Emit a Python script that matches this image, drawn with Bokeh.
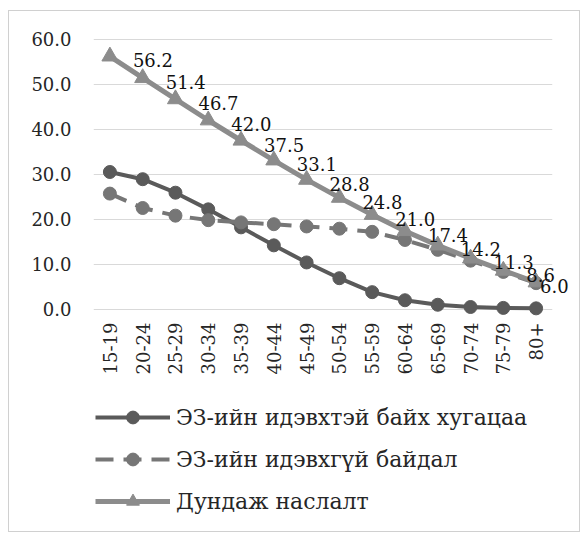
from bokeh.plotting import figure
from bokeh.layouts import column
from bokeh.models import ColumnDataSource, Legend, LegendItem, FixedTicker, Range1d
from bokeh.core.properties import value
from bokeh.embed import file_html
from bokeh.resources import INLINE
import math

age_groups = ["15-19", "20-24", "25-29", "30-34", "35-39", "40-44", "45-49",
              "50-54", "55-59", "60-64", "65-69", "70-74", "75-79", "80+"]
active_years = [30.5, 28.9, 25.9, 22.2, 18.2, 14.2, 10.4, 6.9, 3.8, 2.0, 1.0, 0.5, 0.3, 0.2]
inactive_years = [25.7, 22.5, 20.8, 19.8, 19.3, 18.9, 18.4, 17.9, 17.2, 15.4, 13.2, 10.8, 8.3, 5.8]
life_expectancy = [56.2, 51.4, 46.7, 42.0, 37.5, 33.1, 28.8, 24.8, 21.0, 17.4, 14.2, 11.3, 8.6, 6.0]
series_names = ["ЭЗ-ийн идэвхтэй байх хугацаа", "ЭЗ-ийн идэвхгүй байдал", "Дундаж наслалт"]
y_ticks = [0, 10, 20, 30, 40, 50, 60]

FONT = "DejaVu Serif"
C_ACTIVE = "#5a5a5a"
C_INACTIVE = "#767676"
C_TOTAL = "#8c8c8c"

LINE_STYLES = [dict(line_color=C_ACTIVE, line_width=4),
               dict(line_color=C_INACTIVE, line_width=4, line_dash="18 10"),
               dict(line_color=C_TOTAL, line_width=5)]
MARK_STYLES = [dict(marker="circle", size=13, fill_color=C_ACTIVE, line_color=C_ACTIVE),
               dict(marker="circle", size=13, fill_color=C_INACTIVE, line_color=C_INACTIVE),
               dict(marker="triangle", size=16, fill_color=C_TOTAL, line_color=C_TOTAL)]
SERIES_COLS = ["active", "inactive", "total"]

label_dx = [23] * (len(age_groups) - 1) + [4]
src = ColumnDataSource(dict(age=age_groups, active=active_years, inactive=inactive_years,
                            total=life_expectancy,
                            lbl=[f"{v:.1f}" for v in life_expectancy], dx=label_dx))

# ---- main chart ----
p = figure(width=570, height=379, x_range=age_groups, y_range=Range1d(-2.5, 61.5),
           output_backend="svg", toolbar_location=None,
           min_border_left=84, min_border_right=27, min_border_top=21, min_border_bottom=70)
p.outline_line_color = None
p.xgrid.grid_line_color = None
p.ygrid.grid_line_color = "#d9d9d9"
p.ygrid.grid_line_width = 1
p.yaxis.ticker = FixedTicker(ticks=y_ticks)
p.yaxis.major_label_overrides = {t: f"{t:.1f}" for t in y_ticks}
for ax in (p.xaxis, p.yaxis):
    ax.axis_line_color = None
    ax.major_tick_line_color = None
    ax.minor_tick_line_color = None
    ax.major_tick_out = 0
    ax.major_tick_in = 0
    ax.major_label_text_font = FONT
    ax.major_label_text_font_size = "18px"
    ax.major_label_text_color = "#262626"
p.yaxis.major_label_standoff = 22
p.xaxis.major_label_standoff = 2
p.xaxis.major_label_orientation = math.pi / 2

for col, ls, ms in zip(SERIES_COLS, LINE_STYLES, MARK_STYLES):
    p.line("age", col, source=src, **ls)
    p.scatter("age", col, source=src, **ms)

t = p.text("age", "total", text="lbl", source=src, x_offset="dx", y_offset=4,
           text_font=value(FONT), text_font_size="18px", text_color="#111111",
           text_align="left", text_baseline="middle")
t.level = "overlay"

# ---- legend panel: same series and styles, y view set so the data stays out of sight ----
leg = figure(width=570, height=141, x_range=age_groups, y_range=Range1d(1000, 1001),
             output_backend="svg", toolbar_location=None,
             x_axis_type=None, y_axis_type=None, min_border=0)
leg.outline_line_color = None
leg.grid.grid_line_color = None
items = []
for name, col, ls, ms in zip(series_names, SERIES_COLS, LINE_STYLES, MARK_STYLES):
    lr = leg.line("age", col, source=src, **ls)
    mr = leg.scatter("age", col, source=src, **ms)
    items.append(LegendItem(label=name, renderers=[lr, mr]))
legend = Legend(items=items, location=(2, 14), orientation="vertical",
                glyph_width=75, glyph_height=32, label_height=20, label_standoff=6,
                spacing=10, padding=0, margin=0,
                label_text_font=FONT, label_text_font_size="22px",
                label_text_color="#262626",
                border_line_color=None, background_fill_alpha=0)
leg.add_layout(legend, "center")

layout = column(p, leg, spacing=0,
                styles={"border": "1px solid #d0d0d0", "margin-left": "8px", "margin-top": "10px"})

open("out.html", "w").write(file_html(layout, INLINE))
